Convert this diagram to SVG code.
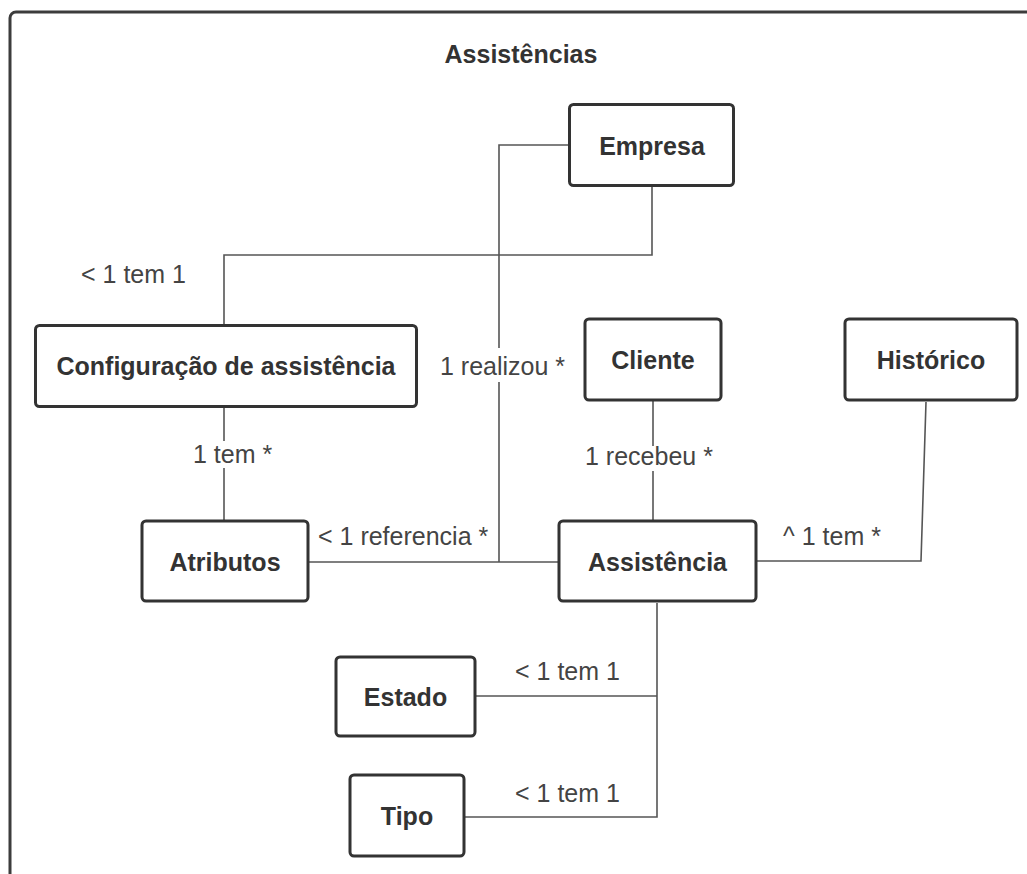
<svg xmlns="http://www.w3.org/2000/svg" width="1027" height="874" viewBox="0 0 1027 874">
  <style>
    .frame { fill: #ffffff; stroke: #3c3c3c; stroke-width: 3; }
    .node rect { fill: #ffffff; stroke: #333333; stroke-width: 3; }
    .node text { font-family: "Liberation Sans", Arial, sans-serif; font-size: 25px; font-weight: bold; fill: #333333; text-anchor: middle; }
    .title { font-family: "Liberation Sans", Arial, sans-serif; font-size: 25px; font-weight: bold; fill: #333333; text-anchor: middle; }
    .edge { fill: none; stroke: #555555; stroke-width: 1.6; }
    .lbl { font-family: "Liberation Sans", Arial, sans-serif; font-size: 25px; fill: #444444; }
    .bg { fill: #ffffff; }
  </style>
  <rect width="1027" height="874" fill="#ffffff"/>
  <!-- package frame, open on the right and bottom -->
  <rect class="frame" x="10" y="12" width="1100" height="900" rx="6"/>
  <text class="title" x="521" y="63">Assistências</text>

  <g id="connectors">
    <!-- Empresa to Configuração de assistência -->
    <path class="edge" d="M652,186 V255 H224 V325"/>
    <text class="lbl" x="81" y="283">&lt; 1 tem 1</text>
    <!-- Empresa to Atributos/Assistência line -->
    <path class="edge" d="M569,145 H499 V562"/>
    <rect class="bg" x="438" y="348" width="128" height="34"/>
    <text class="lbl" x="440" y="375">1 realizou *</text>
    <!-- Configuração de assistência to Atributos -->
    <path class="edge" d="M224,407 V520"/>
    <rect class="bg" x="192" y="441" width="86" height="27"/>
    <text class="lbl" x="193" y="463">1 tem *</text>
    <!-- Atributos to Assistência -->
    <path class="edge" d="M309,562 H558"/>
    <text class="lbl" x="318" y="545">&lt; 1 referencia *</text>
    <!-- Cliente to Assistência -->
    <path class="edge" d="M653,401 V520"/>
    <rect class="bg" x="583" y="446" width="144" height="25"/>
    <text class="lbl" x="585" y="465">1 recebeu *</text>
    <!-- Histórico to Assistência -->
    <path class="edge" d="M926,402 L921,561 H757"/>
    <text class="lbl" x="783" y="545">^ 1 tem *</text>
    <!-- Assistência to Estado and Tipo -->
    <path class="edge" d="M657,603 V817 H465"/>
    <path class="edge" d="M657,696 H476"/>
    <text class="lbl" x="515" y="680">&lt; 1 tem 1</text>
    <text class="lbl" x="515" y="802">&lt; 1 tem 1</text>
  </g>

  <g id="empresa" class="node">
    <rect x="569.5" y="104.5" width="164" height="81" rx="4"/>
    <text x="652" y="155">Empresa</text>
  </g>
  <g id="configuracao" class="node">
    <rect x="35.5" y="325.5" width="381" height="81" rx="4"/>
    <text x="226" y="375">Configuração de assistência</text>
  </g>
  <g id="cliente" class="node">
    <rect x="585" y="319" width="136" height="81" rx="4"/>
    <text x="653" y="369">Cliente</text>
  </g>
  <g id="historico" class="node">
    <rect x="845" y="319" width="172" height="81" rx="4"/>
    <text x="931" y="369">Histórico</text>
  </g>
  <g id="atributos" class="node">
    <rect x="142" y="521" width="166" height="80" rx="4"/>
    <text x="225" y="571">Atributos</text>
  </g>
  <g id="assistencia" class="node">
    <rect x="559" y="521" width="197" height="80" rx="4"/>
    <text x="657.5" y="571">Assistência</text>
  </g>
  <g id="estado" class="node">
    <rect x="336" y="657" width="139" height="79" rx="4"/>
    <text x="405.5" y="706">Estado</text>
  </g>
  <g id="tipo" class="node">
    <rect x="350" y="775" width="114" height="81" rx="4"/>
    <text x="407" y="825">Tipo</text>
  </g>
</svg>
